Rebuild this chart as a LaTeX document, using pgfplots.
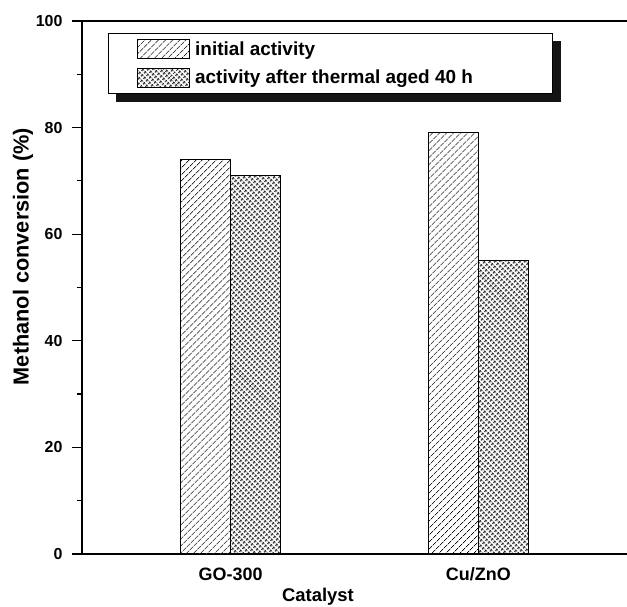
\documentclass[border=0pt]{standalone}
\usepackage{fontspec}
\setmainfont{Liberation Sans}
\usepackage{pgfplots}
\pgfplotsset{compat=1.18}
\usetikzlibrary{patterns.meta}
\begin{document}
\begin{tikzpicture}
\begin{axis}[
  scale only axis, width=545bp, height=533bp,
  xmin=-0.6, xmax=1.6, ymin=0, ymax=100,
  axis x line=box, axis y line=left,
  x axis line style={-}, y axis line style={-},
  axis line style={line width=1.2bp, black},
  ybar=0pt, bar width=50bp,
  legend image code/.code={\draw[#1,line width=0.8bp] (0bp,-9.5bp) rectangle (52bp,9.5bp);},
  xtick={0,1}, xticklabels={GO-300,Cu/ZnO},
  xtick style={draw=none},
  ytick={0,20,...,100}, minor ytick={10,30,50,70,90},
  tick align=outside, ytick pos=left,
  major tick length=10bp, minor tick length=5bp,
  tick style={line width=1.2bp, black},
  /pgf/number format/assume math mode=true,
  y tick label style={font=\bfseries\fontsize{16}{19}\selectfont, xshift=-6bp},
  x tick label style={font=\bfseries\fontsize{18}{21}\selectfont},
  xlabel={Catalyst}, ylabel={Methanol conversion (\%)},
  xlabel style={font=\bfseries\fontsize{18.5}{22}\selectfont, at={(ticklabel cs:0.433)}, anchor=north},
  ylabel style={font=\bfseries\fontsize{21.8}{25}\selectfont, at={(ticklabel cs:0.558)}, yshift=-4bp},
  legend cell align=left,
  legend style={name=leg, at={(rel axis cs:0.0477,0.977)}, anchor=north west,
    draw=black, line width=0.8bp, fill=white,
    font=\bfseries\fontsize{19}{22}\selectfont,
    inner xsep=29bp, inner ysep=5.5bp, row sep=9bp},
]
\addplot[draw=black, line width=1bp,
  pattern={Lines[angle=45,distance=5.2bp,line width=0.8bp]}]
  coordinates {(0,74) (1,79)};
\addlegendentry{\hspace*{3bp}initial activity}
\addplot[draw=black, line width=1bp,
  pattern={Hatch[angle=45,distance=3.6bp,line width=0.75bp]}]
  coordinates {(0,71) (1,55)};
\addlegendentry{\makebox[329bp][l]{\hspace*{3bp}activity after thermal aged 40 h}}
\end{axis}
\fill[black!92] ([xshift=8bp,yshift=-8bp]leg.south west) rectangle ([xshift=8bp]leg.south east);
\fill[black!92] ([yshift=-8bp]leg.south east) rectangle ([xshift=8bp,yshift=-8bp]leg.north east);
\pgfresetboundingbox
\path[use as bounding box] (-82bp,-53bp) rectangle (545bp,554bp);
\end{tikzpicture}
\end{document}
